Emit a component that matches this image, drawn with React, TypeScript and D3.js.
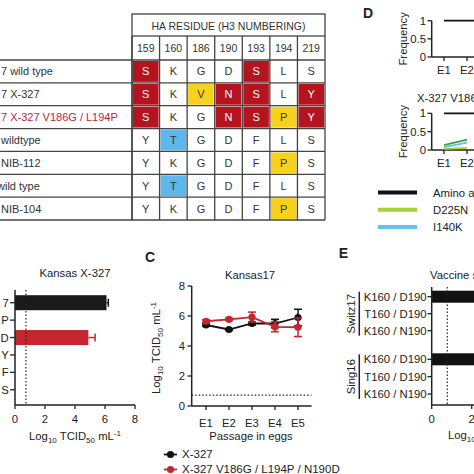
import React from "react";
import * as d3 from "d3";

// ---------- Table (A) ----------
const residues = ["159", "160", "186", "190", "193", "194", "219"];
const strainLabels = ["7 wild type", "7 X-327", "7 X-327 V186G / L194P", "wildtype", "NIB-112", "wild type", "NIB-104"];
const residueRows = ["SKGDSLS", "SKVNSLY", "SKGNSPY", "YTGDFLS", "YKGDFPS", "YTGDFLS", "YKGDFPS"];
const cellCodes = ["r...r..", "r.yrr.r", "r..rryr", ".b.....", ".....y.", ".b.....", ".....y."];
const highlightRow = 2;

// ---------- Panel B ----------
const bCats = ["7", "P", "D", "Y", "F", "S"];
const bValues = [6.1, 0, 4.89, 0, 0, 0];
const bErr = [0.12, 0, 0.45, 0, 0, 0];
const bSeriesColor = ["black", "black", "red", "black", "black", "black"];
const bTicks = [0, 2, 4, 6, 8];
const detectionLimit = 0.73;

// ---------- Panel C ----------
const passages = ["E1", "E2", "E3", "E4", "E5"];
const cX327 = [5.4, 5.1, 5.5, 5.5, 5.9];
const cX327Err = [0.08, 0.06, 0.1, 0.28, 0.55];
const cMutant = [5.65, 5.78, 5.93, 5.28, 5.25];
const cMutantErr = [0.1, 0.08, 0.33, 0.33, 0.62];
const cTicks = [0, 2, 4, 6, 8];
const cLegend = ["X-327", "X-327 V186G / L194P / N190D"];

// ---------- Panel D ----------
const dPassages = ["E1", "E2", "E3", "E4", "E5"];
const dTop = [1, 1, 1, 1, 1];
const dBottomBlack = [1, 1, 1, 1, 1];
const dBottomGreen = [0.13, 0.28];
const dBottomBlue = [0.08, 0.2];
const dBottomLime = [0.03, 0.06];
const dTicks = [0, 0.5, 1];
const dLegend = ["Amino acid 219", "D225N", "I140K"];

// ---------- Panel E ----------
const eGroups = ["Switz17", "Sing16"];
const eCats = ["K160 / D190", "T160 / D190", "K160 / N190"];
const eValues = [
  [6.3, 0, 0],
  [6.2, 0, 0],
];
const eTicks = [0, 2];

const FONT = "'Liberation Sans', Arial, Helvetica, sans-serif";
const RED = "#c4262e";
const CELL_RED = "#b5141f";
const CELL_YELLOW = "#f6d21c";
const CELL_BLUE = "#5cb7ea";
const AX = "#222";
const FS = 11.3;

const TCIDLabel = ({ x, y, rotate = false, anchor = "middle" }: any) => (
  <text
    x={x}
    y={y}
    fontSize={FS}
    textAnchor={anchor}
    fill="#222"
    transform={rotate ? `rotate(-90 ${x} ${y})` : undefined}
  >
    Log
    <tspan fontSize={8} dy={3}>10</tspan>
    <tspan dy={-3}> TCID</tspan>
    <tspan fontSize={8} dy={3}>50</tspan>
    <tspan dy={-3}> mL</tspan>
    <tspan fontSize={8} dy={-4}>-1</tspan>
  </text>
);

function Table() {
  const x = d3.scaleBand<string>().domain(residues).range([132, 325]);
  const y = d3.scaleBand<string>().domain(strainLabels).range([60, 220]);
  const colorOf = (c: string) => (c === "r" ? CELL_RED : c === "y" ? CELL_YELLOW : c === "b" ? CELL_BLUE : "none");
  const bw = x.bandwidth();
  const bh = y.bandwidth();
  return (
    <g fontFamily={FONT}>
      {strainLabels.map((lab, i) =>
        residues.map((r, j) => {
          const code = cellCodes[i][j];
          if (code === ".") return null;
          return (
            <rect key={`c${i}-${j}`} x={x(r)! + 1} y={y(lab)! + 1} width={bw - 2} height={bh - 2} fill={colorOf(code)} />
          );
        })
      )}
      {strainLabels.map((lab, i) =>
        residues.map((r, j) => {
          const code = cellCodes[i][j];
          return (
            <text
              key={`t${i}-${j}`}
              x={x(r)! + bw / 2}
              y={y(lab)! + bh / 2 + 4}
              textAnchor="middle"
              fontSize={11}
              fill={code === "r" ? "#fff" : "#333"}
            >
              {residueRows[i][j]}
            </text>
          );
        })
      )}
      {strainLabels.map((lab, i) => (
        <text key={`l${i}`} x={lab === "wild type" ? -3 : 1} y={y(lab)! + bh / 2 + 4} fontSize={11} fill={i === highlightRow ? "#c0233d" : "#333"}>
          {lab}
        </text>
      ))}
      {/* header */}
      <rect x={132} y={14} width={193} height={22} fill="none" stroke="#444" strokeWidth={1.3} />
      <text x={228.5} y={29.5} textAnchor="middle" fontSize={10.5} fill="#333">
        HA RESIDUE (H3 NUMBERING)
      </text>
      {residues.map((r) => (
        <text key={`h${r}`} x={x(r)! + bw / 2} y={52} textAnchor="middle" fontSize={10.5} fill="#333">
          {r}
        </text>
      ))}
      {/* horizontal lines */}
      {[...strainLabels.map((l) => y(l)!), 220].map((yy, i) => (
        <line key={`hl${i}`} x1={0} x2={325} y1={yy} y2={yy} stroke="#444" strokeWidth={1.3} />
      ))}
      {/* vertical lines */}
      {[...residues.map((r) => x(r)!), 325].map((xx, i) => (
        <line key={`vl${i}`} x1={xx} x2={xx} y1={36} y2={220} stroke="#444" strokeWidth={i === 0 ? 1.8 : 1.3} />
      ))}
    </g>
  );
}

function PanelB() {
  const x = d3.scaleLinear().domain([0, 8]).range([15, 135]);
  const y = d3.scalePoint<string>().domain(bCats).range([294, 398.5]).padding(0.5);
  const barH = 15;
  return (
    <g fontFamily={FONT} fill="#222">
      <text x={75} y={277} textAnchor="middle" fontSize={FS}>Kansas X-327</text>
      {bCats.map((c, i) =>
        bValues[i] > 0 ? (
          <g key={c}>
            <line x1={x(bValues[i])} x2={x(bValues[i] + bErr[i])} y1={y(c)!} y2={y(c)!} stroke={bSeriesColor[i] === "red" ? RED : "#111"} strokeWidth={1.5} />
            <line x1={x(bValues[i] + bErr[i])} x2={x(bValues[i] + bErr[i])} y1={y(c)! - 4} y2={y(c)! + 4} stroke={bSeriesColor[i] === "red" ? RED : "#111"} strokeWidth={1.5} />
            <rect x={x(0)} y={y(c)! - barH / 2} width={x(bValues[i]) - x(0)} height={barH} fill={bSeriesColor[i] === "red" ? RED : "#1a1a1a"} />
          </g>
        ) : null
      )}
      <line x1={x(detectionLimit)} x2={x(detectionLimit)} y1={290} y2={405} stroke="#222" strokeWidth={1.2} strokeDasharray="1.5,2" />
      <line x1={x(0)} x2={x(0)} y1={290} y2={405} stroke={AX} strokeWidth={1.5} />
      <line x1={x(0)} x2={x(8)} y1={405} y2={405} stroke={AX} strokeWidth={1.5} />
      {bCats.map((c) => (
        <g key={`t${c}`}>
          <line x1={10} x2={x(0)} y1={y(c)!} y2={y(c)!} stroke={AX} strokeWidth={1.3} />
          <text x={8.7} y={y(c)! + 4} textAnchor="end" fontSize={FS}>{c}</text>
        </g>
      ))}
      {bTicks.map((t) => (
        <g key={`xt${t}`}>
          <line x1={x(t)} x2={x(t)} y1={405} y2={409} stroke={AX} strokeWidth={1.3} />
          <text x={x(t)} y={422.5} textAnchor="middle" fontSize={FS}>{t}</text>
        </g>
      ))}
      <TCIDLabel x={75} y={440} />
    </g>
  );
}

function PanelC() {
  const x = d3.scalePoint<string>().domain(passages).range([206, 298]);
  const y = d3.scaleLinear().domain([0, 8]).range([406, 286]);
  const line = d3.line<number>().x((_, i) => x(passages[i])!).y((d) => y(d));
  const series = [
    { v: cX327, e: cX327Err, color: "#111", fill: "#111" },
    { v: cMutant, e: cMutantErr, color: RED, fill: RED },
  ];
  return (
    <g fontFamily={FONT} fill="#222">
      <text x={150} y={262} fontSize={14} fontWeight="bold" textAnchor="middle">C</text>
      <text x={250} y={279} textAnchor="middle" fontSize={FS}>Kansas17</text>
      <line x1={191.7} x2={311.5} y1={y(detectionLimit)} y2={y(detectionLimit)} stroke="#222" strokeWidth={1.2} strokeDasharray="1.5,2" />
      {series.map((s, si) => (
        <g key={si}>
          <path d={line(s.v)!} fill="none" stroke={s.color} strokeWidth={1.8} />
          {s.v.map((v, i) => (
            <g key={i}>
              <line x1={x(passages[i])} x2={x(passages[i])} y1={y(v - s.e[i])} y2={y(v + s.e[i])} stroke={s.color} strokeWidth={1.5} />
              <line x1={x(passages[i])! - 4} x2={x(passages[i])! + 4} y1={y(v + s.e[i])} y2={y(v + s.e[i])} stroke={s.color} strokeWidth={1.5} />
              <line x1={x(passages[i])! - 4} x2={x(passages[i])! + 4} y1={y(v - s.e[i])} y2={y(v - s.e[i])} stroke={s.color} strokeWidth={1.5} />
              <circle cx={x(passages[i])} cy={y(v)} r={3.6} fill={s.fill} />
            </g>
          ))}
        </g>
      ))}
      <line x1={191.7} x2={191.7} y1={286} y2={406} stroke={AX} strokeWidth={1.5} />
      <line x1={191.7} x2={311.5} y1={406} y2={406} stroke={AX} strokeWidth={1.5} />
      {cTicks.map((t) => (
        <g key={t}>
          <line x1={187.5} x2={191.7} y1={y(t)} y2={y(t)} stroke={AX} strokeWidth={1.3} />
          <text x={185} y={y(t) + 4} textAnchor="end" fontSize={FS}>{t}</text>
        </g>
      ))}
      {passages.map((p) => (
        <g key={p}>
          <line x1={x(p)} x2={x(p)} y1={406} y2={410} stroke={AX} strokeWidth={1.3} />
          <text x={x(p)} y={426.5} textAnchor="middle" fontSize={FS}>{p}</text>
        </g>
      ))}
      <text x={251} y={440} textAnchor="middle" fontSize={FS}>Passage in eggs</text>
      <TCIDLabel x={160} y={348} rotate />
      {cLegend.map((l, i) => {
        const yy = 454.5 + i * 15;
        const col = i === 0 ? "#111" : RED;
        return (
          <g key={l}>
            <line x1={164} x2={177} y1={yy} y2={yy} stroke={col} strokeWidth={1.8} />
            <circle cx={170.5} cy={yy} r={3.6} fill={col} />
            <text x={182} y={yy + 3.5} fontSize={11.5}>{l}</text>
          </g>
        );
      })}
    </g>
  );
}

function PanelD() {
  const x = d3.scalePoint<string>().domain(dPassages).range([444, 536]);
  const yTop = d3.scaleLinear().domain([0, 1]).range([57, 20.7]);
  const yBot = d3.scaleLinear().domain([0, 1]).range([150, 113.3]);
  const mk = (yS: d3.ScaleLinear<number, number>) => d3.line<number>().x((_, i) => x(dPassages[i])!).y((d) => yS(d));
  const axis = (yS: d3.ScaleLinear<number, number>, key: string) => (
    <g key={key}>
      <line x1={431.7} x2={431.7} y1={yS(1)} y2={yS(0)} stroke={AX} strokeWidth={1.5} />
      <line x1={431.7} x2={480} y1={yS(0)} y2={yS(0)} stroke={AX} strokeWidth={1.5} />
      {dTicks.map((t) => (
        <g key={t}>
          <line x1={427.5} x2={431.7} y1={yS(t)} y2={yS(t)} stroke={AX} strokeWidth={1.3} />
          <text x={426} y={yS(t) + 4} textAnchor="end" fontSize={FS}>{t}</text>
        </g>
      ))}
      {dPassages.map((p) => (
        <g key={p}>
          <line x1={x(p)} x2={x(p)} y1={yS(0)} y2={yS(0) + 4} stroke={AX} strokeWidth={1.3} />
          <text x={x(p)} y={yS(0) + 17} textAnchor="middle" fontSize={FS}>{p}</text>
        </g>
      ))}
      <text x={407} y={(yS(0) + yS(1)) / 2} textAnchor="middle" fontSize={FS} transform={`rotate(-90 407 ${(yS(0) + yS(1)) / 2})`}>
        Frequency
      </text>
    </g>
  );
  const legendColors = ["#111", "#a6cf3a", "#5ec3ee"];
  return (
    <g fontFamily={FONT} fill="#222">
      <text x={363} y={18} fontSize={14} fontWeight="bold">D</text>
      {axis(yTop, "top")}
      <path d={mk(yTop)(dTop)!} fill="none" stroke="#111" strokeWidth={1.8} />
      <text x={417} y={102} fontSize={FS}>X-327 V186G / L194P</text>
      {axis(yBot, "bot")}
      <path d={mk(yBot)(dBottomBlack)!} fill="none" stroke="#111" strokeWidth={1.8} />
      <path d={mk(yBot)(dBottomLime)!} fill="none" stroke="#a6cf3a" strokeWidth={1.8} />
      <path d={mk(yBot)(dBottomBlue)!} fill="none" stroke="#5ec3ee" strokeWidth={1.8} />
      <path d={mk(yBot)(dBottomGreen)!} fill="none" stroke="#3f9e4a" strokeWidth={1.8} />
      {dLegend.map((l, i) => {
        const yy = 192.5 + i * 17.2;
        return (
          <g key={l}>
            <line x1={378} x2={417} y1={yy} y2={yy} stroke={legendColors[i]} strokeWidth={4} />
            <text x={433} y={yy + 4} fontSize={FS}>{l}</text>
          </g>
        );
      })}
    </g>
  );
}

function PanelE() {
  const x = d3.scaleLinear().domain([0, 2]).range([431.7, 471.7]);
  const groupRanges: [number, number][] = [
    [296.7, 330.7],
    [359.3, 394],
  ];
  const barH = 12;
  return (
    <g fontFamily={FONT} fill="#222">
      <text x={343.5} y={258} fontSize={14} fontWeight="bold" textAnchor="middle">E</text>
      <text x={430} y={278.5} fontSize={FS}>Vaccine strain</text>
      {eGroups.map((g, gi) => {
        const y = d3.scalePoint<string>().domain(eCats).range(groupRanges[gi]);
        const mid = (groupRanges[gi][0] + groupRanges[gi][1]) / 2;
        return (
          <g key={g}>
            {eCats.map((c, ci) => (
              <g key={c}>
                {eValues[gi][ci] > 0 && (
                  <rect x={x(0)} y={y(c)! - barH / 2} width={x(eValues[gi][ci]) - x(0)} height={barH} fill="#111" />
                )}
                <line x1={427.5} x2={431.7} y1={y(c)!} y2={y(c)!} stroke={AX} strokeWidth={1.3} />
                <text x={426.5} y={y(c)! + 4} textAnchor="end" fontSize={FS}>{c}</text>
              </g>
            ))}
            <line x1={359.3} x2={359.3} y1={groupRanges[gi][0] - 5} y2={groupRanges[gi][1] + 5} stroke={AX} strokeWidth={1.5} />
            <text x={355} y={mid} textAnchor="middle" fontSize={FS} transform={`rotate(-90 355 ${mid})`}>{g}</text>
          </g>
        );
      })}
      <line x1={x(0.78)} x2={x(0.78)} y1={287} y2={405} stroke="#222" strokeWidth={1.2} strokeDasharray="1.5,2" />
      <line x1={x(0)} x2={x(0)} y1={287} y2={405} stroke={AX} strokeWidth={1.5} />
      <line x1={x(0)} x2={480} y1={405} y2={405} stroke={AX} strokeWidth={1.5} />
      {eTicks.map((t) => (
        <g key={t}>
          <line x1={x(t)} x2={x(t)} y1={405} y2={409} stroke={AX} strokeWidth={1.3} />
          <text x={x(t)} y={422.5} textAnchor="middle" fontSize={FS}>{t}</text>
        </g>
      ))}
      <TCIDLabel x={448} y={439} anchor="start" />
    </g>
  );
}

export default function App() {
  return (
    <svg
      width={474}
      height={474}
      viewBox="0 0 474 474"
      style={{ position: "absolute", left: 0, top: 0, background: "#fff" }}
    >
      <rect width={474} height={474} fill="#fff" />
      <Table />
      <PanelB />
      <PanelC />
      <PanelD />
      <PanelE />
    </svg>
  );
}
